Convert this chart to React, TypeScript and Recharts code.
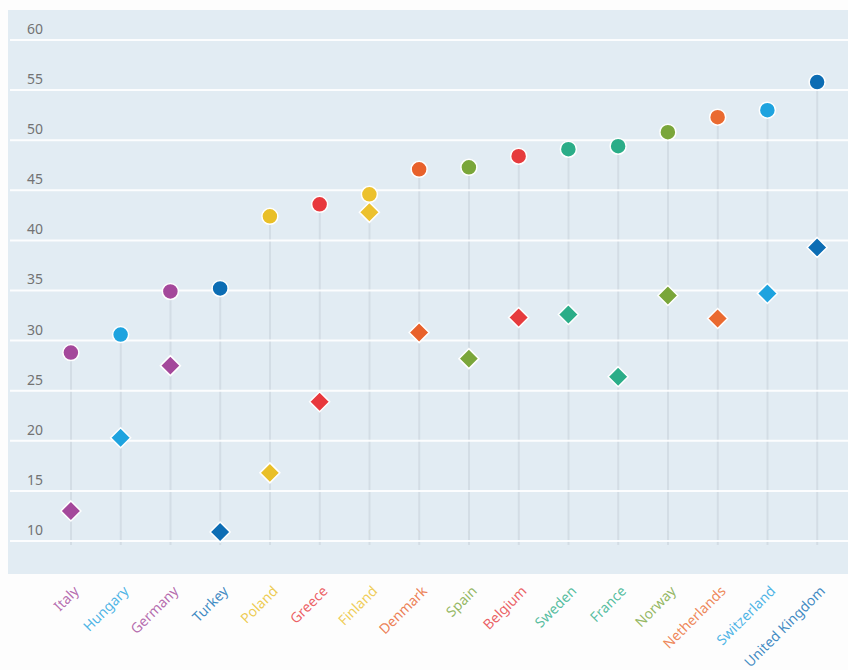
import React from 'react';
import { ComposedChart, Bar, Scatter, XAxis, YAxis, ReferenceLine } from 'recharts';

const countries = [
  'Italy', 'Hungary', 'Germany', 'Turkey', 'Poland', 'Greece', 'Finland', 'Denmark',
  'Spain', 'Belgium', 'Sweden', 'France', 'Norway', 'Netherlands', 'Switzerland', 'United Kingdom'
];
const highValues = [28.8, 30.6, 34.9, 35.2, 42.4, 43.6, 44.6, 47.1, 47.3, 48.4, 49.1, 49.4, 50.8, 52.3, 53.0, 55.8];
const lowValues = [13.0, 20.3, 27.5, 10.9, 16.8, 23.9, 42.8, 30.8, 28.2, 32.3, 32.6, 26.4, 34.5, 32.2, 34.7, 39.3];
const colors = [
  '#a4489b', '#1ea3df', '#a4489b', '#0c6db4', '#e9bf27', '#e8383d', '#ecc12e', '#e8612b',
  '#7aa63a', '#e63b3d', '#2bad88', '#2bad88', '#7aa63a', '#ea6a30', '#1ea3df', '#0c6db4'
];
const yTicks = [10, 15, 20, 25, 30, 35, 40, 45, 50, 55, 60];
const yMin = 9.6;

const data = countries.map((country, i) => ({
  country,
  high: highValues[i],
  low: lowValues[i],
  stem: [yMin, highValues[i]],
  color: colors[i]
}));

const font = '"Noto Sans", "Open Sans", sans-serif';

const CircleDot = (props: any) => {
  const { cx, cy, payload } = props;
  if (cx == null || cy == null) return null;
  return <circle cx={cx} cy={cy} r={8} fill={payload.color} stroke="#ffffff" strokeWidth={1.5} />;
};

const DiamondDot = (props: any) => {
  const { cx, cy, payload } = props;
  if (cx == null || cy == null) return null;
  const s = 10;
  const pts = `${cx},${cy - s} ${cx + s},${cy} ${cx},${cy + s} ${cx - s},${cy}`;
  return <polygon points={pts} fill={payload.color} stroke="#ffffff" strokeWidth={1.5} />;
};

const YTick = (props: any) => {
  const { y, payload } = props;
  return (
    <text x={27} y={y - 6} textAnchor="start" fontSize={14} fontFamily={font} fill="#737373">
      {payload.value}
    </text>
  );
};

const XTick = (props: any) => {
  const { x, payload, index } = props;
  const ax = x + 9;
  const ay = 592;
  return (
    <text
      x={ax}
      y={ay}
      textAnchor="end"
      fontSize={14}
      fontFamily={font}
      fill={colors[index]}
      fillOpacity={0.8}
      transform={`rotate(-45, ${ax}, ${ay})`}
    >
      {payload.value}
    </text>
  );
};

export default function App() {
  return (
    <div style={{ position: 'absolute', left: 0, top: 0, width: 848, height: 670, background: '#fdfdfd' }}>
      <div style={{ position: 'absolute', left: 8, top: 10, width: 840, height: 564, background: '#e2ecf3' }} />
      <div style={{ position: 'absolute', left: 0, top: 0 }}>
        <ComposedChart
          width={848}
          height={670}
          data={data}
          margin={{ top: 40, right: 0, left: 0, bottom: 0 }}
        >
          <XAxis
            dataKey="country"
            type="category"
            padding={{ left: 36, right: 6 }}
            axisLine={false}
            tickLine={false}
            interval={0}
            height={125}
            tick={<XTick />}
          />
          <YAxis
            type="number"
            domain={[yMin, 60]}
            ticks={yTicks}
            width={10}
            axisLine={false}
            tickLine={false}
            tick={<YTick />}
            allowDataOverflow
          />
          {yTicks.map((t) => (
            <ReferenceLine key={t} y={t} stroke="#ffffff" strokeWidth={2} strokeOpacity={0.9} />
          ))}
          <Bar dataKey="stem" barSize={2} fill="#d3dde5" isAnimationActive={false} />
          <Scatter dataKey="low" shape={<DiamondDot />} isAnimationActive={false} />
          <Scatter dataKey="high" shape={<CircleDot />} isAnimationActive={false} />
        </ComposedChart>
      </div>
    </div>
  );
}
